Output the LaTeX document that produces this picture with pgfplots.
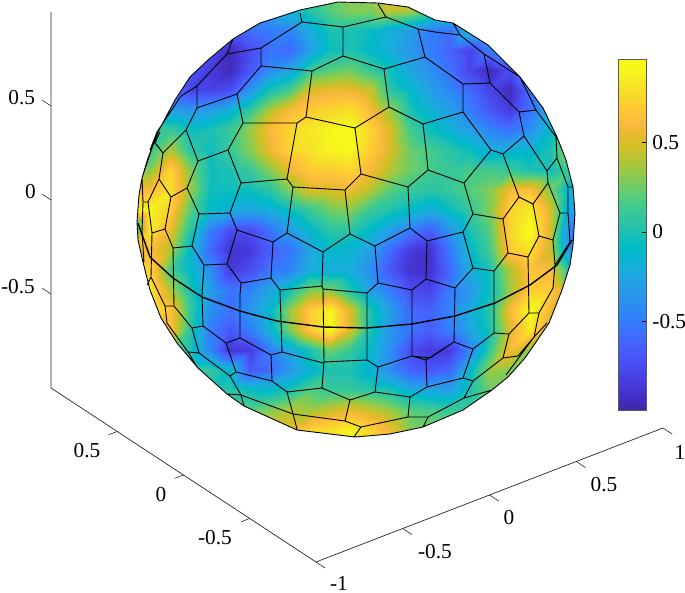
\documentclass[border=0pt]{standalone}
\usepackage{pgfplots}
\pgfplotsset{compat=1.18}
\usepackage{fontspec}
\setmainfont{Liberation Serif}
\pgfplotsset{colormap={parula}{
rgb=(0.2422,0.1504,0.6603) rgb=(0.2578,0.1818,0.7511) rgb=(0.2706,0.2147,0.8364) rgb=(0.2783,0.2559,0.8991)
rgb=(0.2813,0.3006,0.9414) rgb=(0.2795,0.3447,0.9717) rgb=(0.2699,0.3892,0.9906) rgb=(0.2440,0.4358,0.9988)
rgb=(0.1963,0.4847,0.9892) rgb=(0.1786,0.5289,0.9682) rgb=(0.1687,0.5703,0.9359) rgb=(0.1460,0.6091,0.9079)
rgb=(0.1248,0.6459,0.8883) rgb=(0.0952,0.6798,0.8598) rgb=(0.0297,0.7082,0.8163) rgb=(0.0067,0.7312,0.7660)
rgb=(0.0964,0.7500,0.7120) rgb=(0.1717,0.7670,0.6554) rgb=(0.2161,0.7843,0.5923) rgb=(0.2906,0.7973,0.5188)
rgb=(0.3909,0.8029,0.4354) rgb=(0.5044,0.7993,0.3480) rgb=(0.6174,0.7876,0.2612) rgb=(0.7242,0.7698,0.1910)
rgb=(0.8203,0.7498,0.1535) rgb=(0.9035,0.7330,0.1774) rgb=(0.9728,0.7298,0.2394) rgb=(0.9970,0.7659,0.2199)
rgb=(0.9892,0.8136,0.1885) rgb=(0.9676,0.8639,0.1643) rgb=(0.9597,0.9135,0.1423) rgb=(0.9691,0.9606,0.1064)
rgb=(0.9769,0.9839,0.0805)}}
\newcommand{\lab}{\fontsize{21.3}{24}\selectfont}
\begin{document}
\begin{tikzpicture}
\path[use as bounding box] (0,0) rectangle (685pt,592pt);
\begin{axis}[at={(0,0)},anchor=south west,scale only axis,width=685pt,height=592pt,
  xmin=0,xmax=685,ymin=0,ymax=592,y dir=reverse,hide axis,clip mode=individual,
  colormap name=parula,point meta min=-0.996,point meta max=0.963,
  unbounded coords=jump]
\addplot[surf,shader=interp,mesh/cols=24,point meta=explicit,forget plot]
 table[x index=0,y index=1,meta index=2,row sep=\\]{
130 -10 -0.3\\150 -10 -0.3\\170 -10 -0.3\\190 -10 -0.3\\210 -10 -0.3\\230 -10 -0.3\\250 -10 -0.3\\270 -10 -0.3\\290 -10 -0.1\\310 -10 0.05\\330 -10 0.2\\350 -10 0.3\\370 -10 0.3\\390 -10 0.45\\410 -10 0.4\\430 -10 0.2\\450 -10 0.1\\470 -10 0.1\\490 -10 0.1\\510 -10 0.1\\530 -10 0.1\\550 -10 0.1\\570 -10 0.1\\590 -10 0.1\\
130 10 -0.3\\150 10 -0.3\\170 10 -0.3\\190 10 -0.3\\210 10 -0.3\\230 10 -0.3\\250 10 -0.3\\270 10 -0.3\\290 10 -0.1\\310 10 0.05\\330 10 0.2\\350 10 0.3\\370 10 0.3\\390 10 0.45\\410 10 0.4\\430 10 0.2\\450 10 0.1\\470 10 0.1\\490 10 0.1\\510 10 0.1\\530 10 0.1\\550 10 0.1\\570 10 0.1\\590 10 0.1\\
130 30 -0.6\\150 30 -0.6\\170 30 -0.6\\190 30 -0.6\\210 30 -0.6\\230 30 -0.6\\250 30 -0.55\\270 30 -0.5\\290 30 -0.45\\310 30 -0.2\\330 30 0\\350 30 0\\370 30 -0.05\\390 30 -0.2\\410 30 -0.3\\430 30 -0.5\\450 30 -0.55\\470 30 -0.1\\490 30 -0.1\\510 30 -0.1\\530 30 -0.1\\550 30 -0.1\\570 30 -0.1\\590 30 -0.1\\
130 50 -0.7\\150 50 -0.7\\170 50 -0.7\\190 50 -0.7\\210 50 -0.7\\230 50 -0.95\\250 50 -0.75\\270 50 -0.55\\290 50 -0.6\\310 50 -0.3\\330 50 -0.05\\350 50 0\\370 50 -0.1\\390 50 -0.2\\410 50 -0.35\\430 50 -0.5\\450 50 -0.65\\470 50 -0.8\\490 50 -0.5\\510 50 -0.2\\530 50 -0.2\\550 50 -0.2\\570 50 -0.2\\590 50 -0.2\\
130 70 -0.7\\150 70 -0.7\\170 70 -0.7\\190 70 -0.7\\210 70 -0.85\\230 70 -0.95\\250 70 -0.7\\270 70 -0.4\\290 70 -0.25\\310 70 0.1\\330 70 0.2\\350 70 0.25\\370 70 0.1\\390 70 -0.05\\410 70 -0.25\\430 70 -0.4\\450 70 -0.55\\470 70 -0.8\\490 70 -0.95\\510 70 -0.75\\530 70 -0.3\\550 70 -0.3\\570 70 -0.3\\590 70 -0.3\\
130 90 -0.5\\150 90 -0.5\\170 90 -0.5\\190 90 -0.8\\210 90 -0.8\\230 90 -0.75\\250 90 -0.35\\270 90 0\\290 90 0.15\\310 90 0.5\\330 90 0.55\\350 90 0.55\\370 90 0.45\\390 90 0.05\\410 90 -0.1\\430 90 -0.3\\450 90 -0.45\\470 90 -0.6\\490 90 -0.8\\510 90 -0.95\\530 90 -0.6\\550 90 -0.3\\570 90 -0.1\\590 90 -0.1\\
130 110 -0.2\\150 110 -0.2\\170 110 -0.3\\190 110 -0.35\\210 110 -0.3\\230 110 -0.15\\250 110 0.1\\270 110 0.4\\290 110 0.6\\310 110 0.7\\330 110 0.75\\350 110 0.8\\370 110 0.6\\390 110 0.35\\410 110 0\\430 110 -0.15\\450 110 -0.3\\470 110 -0.5\\490 110 -0.7\\510 110 -0.85\\530 110 -0.55\\550 110 -0.2\\570 110 0.1\\590 110 0.1\\
130 130 0.2\\150 130 0.2\\170 130 0.1\\190 130 -0.05\\210 130 0\\230 130 0.1\\250 130 0.35\\270 130 0.6\\290 130 0.75\\310 130 0.85\\330 130 0.9\\350 130 0.95\\370 130 0.75\\390 130 0.5\\410 130 0.15\\430 130 -0.05\\450 130 -0.15\\470 130 -0.3\\490 130 -0.45\\510 130 -0.55\\530 130 -0.4\\550 130 -0.1\\570 130 0.2\\590 130 0.2\\
130 150 0.1\\150 150 0.1\\170 150 0.4\\190 150 0.05\\210 150 -0.05\\230 150 0.1\\250 150 0.3\\270 150 0.55\\290 150 0.75\\310 150 0.8\\330 150 0.9\\350 150 0.92\\370 150 0.7\\390 150 0.5\\410 150 0.25\\430 150 0.15\\450 150 0.05\\470 150 -0.05\\490 150 -0.2\\510 150 -0.15\\530 150 -0.15\\550 150 0\\570 150 0.4\\590 150 0.4\\
130 170 0.3\\150 170 0.3\\170 170 0.75\\190 170 0.3\\210 170 -0.05\\230 170 0\\250 170 0.1\\270 170 0.3\\290 170 0.55\\310 170 0.7\\330 170 0.7\\350 170 0.75\\370 170 0.6\\390 170 0.4\\410 170 0.25\\430 170 0.15\\450 170 0.1\\470 170 0.15\\490 170 0.15\\510 170 0.1\\530 170 0\\550 170 -0.05\\570 170 0.1\\590 170 0.1\\
130 190 0.6\\150 190 0.6\\170 190 0.8\\190 190 0.35\\210 190 -0.05\\230 190 -0.05\\250 190 -0.05\\270 190 0.05\\290 190 0.3\\310 190 0.5\\330 190 0.5\\350 190 0.55\\370 190 0.4\\390 190 0.2\\410 190 0.1\\430 190 0.05\\450 190 0.1\\470 190 0.2\\490 190 0.3\\510 190 0.6\\530 190 0.65\\550 190 0.3\\570 190 -0.2\\590 190 -0.2\\
130 210 0.9\\150 210 0.9\\170 210 0.7\\190 210 0.2\\210 210 -0.1\\230 210 -0.2\\250 210 -0.25\\270 210 -0.2\\290 210 -0.05\\310 210 0.1\\330 210 0.25\\350 210 0.3\\370 210 0.1\\390 210 0\\410 210 -0.1\\430 210 -0.2\\450 210 -0.05\\470 210 0.1\\490 210 0.3\\510 210 0.75\\530 210 0.85\\550 210 0.5\\570 210 -0.3\\590 210 -0.3\\
130 230 -0.3\\150 230 0.85\\170 230 0.55\\190 230 0.05\\210 230 -0.5\\230 230 -0.75\\250 230 -0.75\\270 230 -0.55\\290 230 -0.3\\310 230 -0.1\\330 230 0.05\\350 230 0.05\\370 230 -0.1\\390 230 -0.3\\410 230 -0.5\\430 230 -0.65\\450 230 -0.35\\470 230 0\\490 230 0.2\\510 230 0.75\\530 230 0.95\\550 230 0.5\\570 230 -0.5\\590 230 -0.5\\
130 250 0.5\\150 250 0.6\\170 250 0.4\\190 250 -0.1\\210 250 -0.6\\230 250 -0.9\\250 250 -0.85\\270 250 -0.65\\290 250 -0.55\\310 250 -0.25\\330 250 -0.1\\350 250 -0.15\\370 250 -0.3\\390 250 -0.6\\410 250 -0.85\\430 250 -0.9\\450 250 -0.5\\470 250 -0.1\\490 250 0.15\\510 250 0.7\\530 250 0.8\\550 250 0.45\\570 250 -0.4\\590 250 -0.4\\
130 270 0.7\\150 270 0.75\\170 270 0.15\\190 270 -0.1\\210 270 -0.4\\230 270 -0.85\\250 270 -0.75\\270 270 -0.55\\290 270 -0.45\\310 270 -0.2\\330 270 -0.2\\350 270 -0.2\\370 270 -0.4\\390 270 -0.7\\410 270 -0.9\\430 270 -0.9\\450 270 -0.6\\470 270 -0.2\\490 270 0\\510 270 0.4\\530 270 0.65\\550 270 0.6\\570 270 0\\590 270 0\\
130 290 0.85\\150 290 0.85\\170 290 0.4\\190 290 0\\210 290 -0.3\\230 290 -0.55\\250 290 -0.45\\270 290 -0.25\\290 290 0\\310 290 0.3\\330 290 0.3\\350 290 0\\370 290 -0.3\\390 290 -0.5\\410 290 -0.75\\430 290 -0.8\\450 290 -0.5\\470 290 -0.35\\490 290 -0.05\\510 290 0.35\\530 290 0.7\\550 290 0.7\\570 290 0.4\\590 290 0.4\\
130 310 0.9\\150 310 0.9\\170 310 0.65\\190 310 0.1\\210 310 -0.4\\230 310 -0.55\\250 310 -0.35\\270 310 -0.1\\290 310 0.35\\310 310 0.7\\330 310 0.9\\350 310 0.5\\370 310 0\\390 310 -0.3\\410 310 -0.6\\430 310 -0.65\\450 310 -0.45\\470 310 -0.2\\490 310 0.05\\510 310 0.6\\530 310 0.95\\550 310 0.55\\570 310 0.1\\590 310 0.1\\
130 330 0.5\\150 330 0.5\\170 330 0.65\\190 330 0.05\\210 330 -0.5\\230 330 -0.7\\250 330 -0.5\\270 330 -0.15\\290 330 0.3\\310 330 0.7\\330 330 0.92\\350 330 0.5\\370 330 0\\390 330 -0.35\\410 330 -0.55\\430 330 -0.65\\450 330 -0.5\\470 330 -0.25\\490 330 0\\510 330 0.5\\530 330 0.85\\550 330 0.4\\570 330 0.1\\590 330 0.1\\
130 350 0.3\\150 350 0.3\\170 350 0.3\\190 350 0\\210 350 -0.45\\230 350 -0.9\\250 350 -0.85\\270 350 -0.5\\290 350 -0.25\\310 350 0\\330 350 0.25\\350 350 0.1\\370 350 -0.1\\390 350 -0.4\\410 350 -0.75\\430 350 -0.85\\450 350 -0.85\\470 350 -0.45\\490 350 0.1\\510 350 0.6\\530 350 0.3\\550 350 0.1\\570 350 0.1\\590 350 0.1\\
130 370 0.1\\150 370 0.1\\170 370 0.1\\190 370 0.1\\210 370 0.1\\230 370 -0.1\\250 370 -0.7\\270 370 -0.6\\290 370 -0.35\\310 370 -0.15\\330 370 0\\350 370 0\\370 370 -0.15\\390 370 -0.4\\410 370 -0.65\\430 370 -0.7\\450 370 -0.6\\470 370 -0.1\\490 370 0.35\\510 370 0.3\\530 370 0.1\\550 370 0.1\\570 370 0.1\\590 370 0.1\\
130 390 0\\150 390 0\\170 390 0\\190 390 0\\210 390 0\\230 390 0.05\\250 390 -0.05\\270 390 -0.1\\290 390 0\\310 390 0.2\\330 390 0.1\\350 390 0.1\\370 390 0.05\\390 390 0\\410 390 -0.2\\430 390 -0.25\\450 390 -0.3\\470 390 0\\490 390 0.25\\510 390 0.25\\530 390 0.25\\550 390 0.25\\570 390 0.25\\590 390 0.25\\
130 410 0.2\\150 410 0.2\\170 410 0.2\\190 410 0.2\\210 410 0.2\\230 410 0.2\\250 410 0.2\\270 410 0.3\\290 410 0.4\\310 410 0.35\\330 410 0.45\\350 410 0.55\\370 410 0.45\\390 410 0.35\\410 410 0.2\\430 410 0.15\\450 410 0.1\\470 410 0.1\\490 410 0.1\\510 410 0.1\\530 410 0.1\\550 410 0.1\\570 410 0.1\\590 410 0.1\\
130 430 0.5\\150 430 0.5\\170 430 0.5\\190 430 0.5\\210 430 0.5\\230 430 0.5\\250 430 0.5\\270 430 0.5\\290 430 0.55\\310 430 0.75\\330 430 0.8\\350 430 0.9\\370 430 0.75\\390 430 0.55\\410 430 0.3\\430 430 0.3\\450 430 0.3\\470 430 0.3\\490 430 0.3\\510 430 0.3\\530 430 0.3\\550 430 0.3\\570 430 0.3\\590 430 0.3\\
130 450 0.5\\150 450 0.5\\170 450 0.5\\190 450 0.5\\210 450 0.5\\230 450 0.5\\250 450 0.5\\270 450 0.5\\290 450 0.55\\310 450 0.75\\330 450 0.8\\350 450 0.9\\370 450 0.75\\390 450 0.55\\410 450 0.3\\430 450 0.3\\450 450 0.3\\470 450 0.3\\490 450 0.3\\510 450 0.3\\530 450 0.3\\550 450 0.3\\570 450 0.3\\590 450 0.3\\
};
% white mask outside the sphere's outline
\addplot[fill=white,draw=none,even odd rule,forget plot] coordinates {
(120,-12)(600,-12)(600,460)(120,460)(120,222)(137,222)
(139,195)(142,178)(148,158)(159,130)(175,100)(190,77)(208,60)(233,39)(260,23)(285,15)(300,10)(338,2)(378,3)(408,7)(435,20)(453,23)(488,45)(520,77)(543,108)(557,137)(566,160)(573,187)(575,213)(573,245)(570,265)(562,290)(549,323)(525,358)(508,377)(492,390)(463,410)(423,427)(390,434)(355,437)(297,430)(244,406)(227,394)(198,368)(177,343)(161,318)(150,290)(143,262)(138,240)(137,222)
(120,222)(120,-12)};
% outline and cell edges
\addplot[black,line width=0.9pt,line join=round,forget plot] coordinates {
(137,222)(139,195)(142,178)(148,158)(159,130)(175,100)(190,77)(208,60)(233,39)(260,23)(285,15)(300,10)(338,2)(378,3)(408,7)(435,20)(453,23)(488,45)(520,77)(543,108)(557,137)(566,160)(573,187)(575,213)(573,245)(570,265)(562,290)(549,323)(525,358)(508,377)(492,390)(463,410)(423,427)(390,434)(355,437)(297,430)(244,406)(227,394)(198,368)(177,343)(161,318)(150,290)(143,262)(138,240)(137,222)
(nan,nan)(233,39)(227,54)(261,48)(302,22)(343,27)(386,17)(378,4)
(nan,nan)(300,13)(302,22)
(nan,nan)(261,48)(261,66)(237,94)(197,108)(197,86)(227,54)
(nan,nan)(197,86)(181,96)(157,132)(150,150)
(nan,nan)(261,66)(312,71)(343,56)(384,69)(425,57)(418,29)(386,17)
(nan,nan)(343,27)(343,56)
(nan,nan)(418,29)(435,32)(460,35)(453,23)
(nan,nan)(425,57)(463,84)(490,83)(484,54)(460,35)
(nan,nan)(460,35)(484,54)(520,77)(536,110)(519,112)(490,83)
(nan,nan)(536,110)(556,137)(557,158)(568,187)(568,213)(570,242)
(nan,nan)(237,94)(243,123)(297,123)(306,117)(312,71)
(nan,nan)(243,123)(228,150)(198,161)(186,130)(197,108)
(nan,nan)(186,130)(163,153)(159,179)(171,197)(165,229)(152,233)(148,202)(159,179)
(nan,nan)(160,132)(155,143)(163,153)
(nan,nan)(306,117)(355,128)(389,107)(384,69)
(nan,nan)(389,107)(423,124)(463,112)(463,84)
(nan,nan)(423,124)(426,150)(428,170)(464,183)(491,150)(503,154)(524,136)(519,112)
(nan,nan)(463,112)(491,150)
(nan,nan)(524,136)(547,171)(557,158)
(nan,nan)(503,154)(519,197)(533,204)(548,183)(547,171)
(nan,nan)(355,128)(361,174)(408,187)(428,170)
(nan,nan)(297,123)(287,179)(293,187)(345,190)(361,174)
(nan,nan)(287,179)(241,183)(228,150)
(nan,nan)(241,183)(230,213)(199,214)(187,188)(198,161)
(nan,nan)(187,188)(171,197)
(nan,nan)(199,214)(192,246)(173,248)(165,229)
(nan,nan)(192,246)(204,265)(227,264)(237,230)(230,213)
(nan,nan)(237,230)(273,242)(287,233)(293,187)
(nan,nan)(273,242)(271,278)(241,283)(227,264)
(nan,nan)(287,233)(323,252)(350,234)(345,190)
(nan,nan)(350,234)(375,246)(410,228)(408,187)
(nan,nan)(410,228)(427,241)(463,232)(473,214)(464,183)
(nan,nan)(473,214)(503,219)(519,197)
(nan,nan)(503,219)(508,253)(528,257)(539,236)(533,204)
(nan,nan)(508,253)(494,271)(473,268)(463,232)
(nan,nan)(473,268)(455,288)(426,279)(427,241)
(nan,nan)(426,279)(412,290)(378,283)(375,246)
(nan,nan)(378,283)(367,293)(323,289)(322,286)(323,252)
(nan,nan)(322,286)(280,290)(271,278)
(nan,nan)(539,236)(553,240)(560,213)(548,183)
(nan,nan)(560,213)(568,213)
(nan,nan)(553,240)(555,265)(553,288)(539,313)(529,313)(509,334)(494,333)(473,349)(454,342)(430,358)(412,356)
(nan,nan)(570,242)(555,265)
(nan,nan)(528,257)(529,313)
(nan,nan)(494,271)(494,333)
(nan,nan)(455,288)(454,342)
(nan,nan)(412,290)(412,356)(378,367)(367,360)(324,362)(323,289)
(nan,nan)(367,293)(367,360)
(nan,nan)(240,295)(241,283)
(nan,nan)(240,295)(240,338)(271,355)(282,352)(323,363)
(nan,nan)(280,290)(282,352)
(nan,nan)(204,265)(202,295)(203,326)(226,343)(240,338)
(nan,nan)(173,248)(174,306)(165,306)(151,277)(152,233)
(nan,nan)(174,306)(192,328)(203,326)
(nan,nan)(192,328)(199,353)(230,376)(236,372)(226,343)
(nan,nan)(236,372)(272,381)(271,355)
(nan,nan)(272,381)(287,392)(322,388)(324,362)
(nan,nan)(322,388)(350,400)(375,392)(378,367)
(nan,nan)(375,392)(410,397)(427,387)(426,360)(412,356)
(nan,nan)(426,360)(454,342)
(nan,nan)(473,349)(463,378)(427,387)
(nan,nan)(463,378)(473,381)(503,358)(509,334)
(nan,nan)(503,358)(518,356)(534,337)(539,313)
(nan,nan)(534,337)(547,323)
(nan,nan)(473,381)(464,398)(492,390)
(nan,nan)(464,398)(428,417)(408,417)(410,397)
(nan,nan)(408,417)(361,427)(345,421)(350,400)
(nan,nan)(345,421)(293,414)(287,392)
(nan,nan)(293,414)(297,429)
(nan,nan)(293,414)(241,395)(230,376)
(nan,nan)(241,395)(228,394)
(nan,nan)(241,395)(244,406)
(nan,nan)(361,427)(354,437)
(nan,nan)(428,417)(423,427)
(nan,nan)(199,353)(188,352)(167,323)(165,306)
(nan,nan)(188,352)(197,367)
(nan,nan)(506,375)(534,337)
(nan,nan)(142,178)(143,202)(148,202)
(nan,nan)(143,202)(142,232)(144,262)
(nan,nan)(151,277)(147,285)
(nan,nan)(142,178)(153,145)
(nan,nan)(157,145)(163,153)
(nan,nan)(568,187)(573,187)
};
% the thick circle round the sphere
\addplot[black,line width=1.4pt,line join=round,forget plot] coordinates {
(138,223)(150,257)(173,278)(202,297)(240,311)(277,321)(323,327)(367,328)(412,324)(455,316)(495,303)(530,285)(557,265)(572,240)};
% tick labels of the three axes
\begin{scope}[every node/.style={font=\lab,inner sep=0pt}]
\node at (axis cs:21.7,97.5) {0.5};
\node at (axis cs:30.5,192) {0};
\node at (axis cs:18,286.5) {-0.5};
\node at (axis cs:87,451) {0.5};
\node at (axis cs:161,495) {0};
\node at (axis cs:215,538) {-0.5};
\node at (axis cs:339,583) {-1};
\node at (axis cs:435,552) {-0.5};
\node at (axis cs:509,518) {0};
\node at (axis cs:604,485) {0.5};
\node at (axis cs:680,452) {1};
\end{scope}
\end{axis}
\begin{axis}[at={(357pt,372pt)},anchor=origin,
  x={(173.5pt,67pt)},y={(-132.5pt,87pt)},z={(0pt,188pt)},
  xmin=-1,xmax=1,ymin=-1,ymax=1,zmin=-1,zmax=1,clip=false,hide axis,unbounded coords=jump]
\addplot3[black!85,line width=0.7pt] coordinates {(1,-1,-1)(-1,-1,-1)(-1,1,-1)(-1,1,1)};
\addplot3[black!85,line width=0.6pt] coordinates {
(-1,-1,-1)(-1,-1.07,-1)(nan,nan,nan)(-0.5,-1,-1)(-0.5,-1.07,-1)(nan,nan,nan)(0,-1,-1)(0,-1.07,-1)(nan,nan,nan)(0.5,-1,-1)(0.5,-1.07,-1)(nan,nan,nan)(1,-1,-1)(1,-1.07,-1)(nan,nan,nan)
(-1,-0.5,-1)(-1.05,-0.5,-1)(nan,nan,nan)(-1,0,-1)(-1.05,0,-1)(nan,nan,nan)(-1,0.5,-1)(-1.05,0.5,-1)(nan,nan,nan)
(-1,1,-0.5)(-1,1.065,-0.5)(nan,nan,nan)(-1,1,0)(-1,1.065,0)(nan,nan,nan)(-1,1,0.5)(-1,1.065,0.5)};
\end{axis}
\begin{axis}[at={(618pt,181.5pt)},anchor=south west,scale only axis,width=28.7pt,height=351.4pt,
  xmin=0,xmax=1,ymin=-0.996,ymax=0.963,xtick=\empty,
  ytick={-0.5,0,0.5},yticklabels={-0.5,0,0.5},ytick pos=right,
  yticklabel style={font=\lab,anchor=west,inner sep=0pt,xshift=5.5pt},tick align=inside,major tick length=4.5pt,
  tick style={black,line width=0.6pt},axis line style={black!65,line width=0.9pt},
  colormap name=parula,point meta min=-0.996,point meta max=0.963,axis on top]
\addplot[surf,shader=interp,mesh/cols=2,point meta=explicit]
 table[x index=0,y index=1,meta index=2,row sep=\\]{
0 -0.996 -0.996\\1 -0.996 -0.996\\
0 0.963 0.963\\1 0.963 0.963\\
};
\end{axis}
\end{tikzpicture}
\end{document}
